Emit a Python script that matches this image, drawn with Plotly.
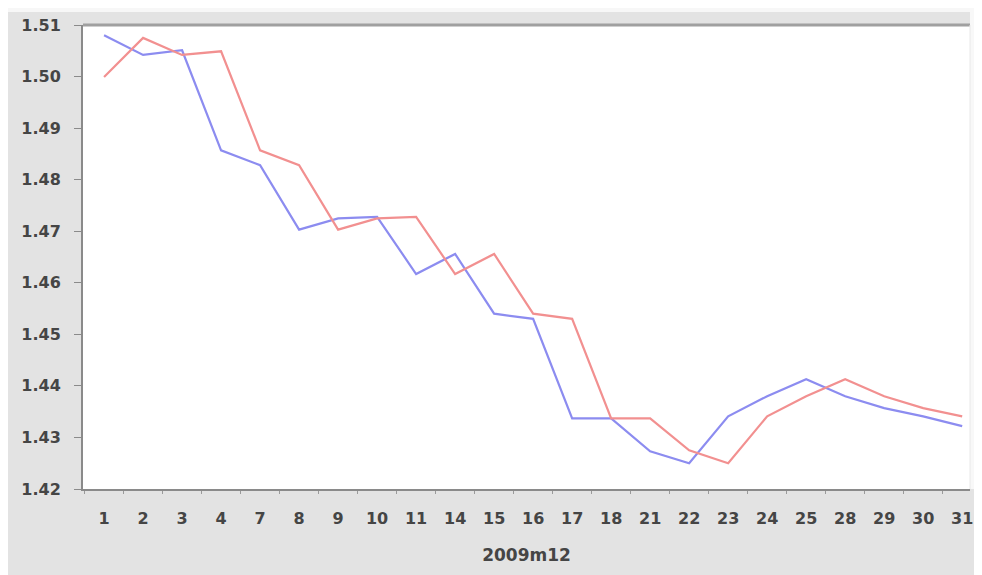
import plotly.graph_objects as go

days = ["1", "2", "3", "4", "7", "8", "9", "10", "11", "14", "15", "16", "17", "18",
        "21", "22", "23", "24", "25", "28", "29", "30", "31"]
blue_series = [1.5080, 1.5042, 1.5051, 1.4857, 1.4828, 1.4703, 1.4725, 1.4728, 1.4617,
               1.4656, 1.4540, 1.4530, 1.4337, 1.4337, 1.4273, 1.4250, 1.4341, 1.4380,
               1.4413, 1.4380, 1.4357, 1.4341, 1.4322]
red_series = [1.4999, 1.5075, 1.5042, 1.5049, 1.4857, 1.4828, 1.4703, 1.4725, 1.4728,
              1.4617, 1.4656, 1.4540, 1.4530, 1.4337, 1.4337, 1.4275, 1.4250, 1.4341,
              1.4380, 1.4413, 1.4380, 1.4357, 1.4341]
y_ticks = [1.42, 1.43, 1.44, 1.45, 1.46, 1.47, 1.48, 1.49, 1.50, 1.51]
x_title = "2009m12"

# page has an 8px body margin, so the figure is sized to fill the rest
W, H = 974, 567
L, R, T, B = 75, 12, 17, 86
pw, ph = W - L - R, H - T - B

fig = go.Figure()
fig.add_trace(go.Scatter(x=days, y=blue_series, mode="lines",
                         line=dict(color="#8c8cf0", width=2.2), showlegend=False))
fig.add_trace(go.Scatter(x=days, y=red_series, mode="lines",
                         line=dict(color="#f29090", width=2.2), showlegend=False))

tfont = dict(family="DejaVu Sans, Verdana, sans-serif", size=16, color="#454545", weight="bold")

fig.update_layout(
    width=W, height=H,
    margin=dict(l=L, r=R, t=T, b=B),
    paper_bgcolor="#e3e3e3",
    plot_bgcolor="#ffffff",
    font=tfont,
    xaxis=dict(
        type="category", range=[-0.54, 22.2], automargin=False,
        showgrid=False, zeroline=False,
        showline=True, linecolor="#8a8a8a", linewidth=2,
        ticks="outside", tickson="boundaries", ticklen=3, tickcolor="#9a9a9a",
        tickfont=tfont,
        ticklabelstandoff=14,
        title=dict(text=x_title, standoff=22, font=dict(tfont, size=17)),
    ),
    yaxis=dict(
        range=[1.42, 1.51], tickvals=y_ticks, automargin=False,
        ticktext=[f"{v:.2f}" for v in y_ticks],
        showgrid=False, zeroline=False,
        showline=True, linecolor="#8a8a8a", linewidth=2,
        ticks="outside", ticklen=7, tickcolor="#8a8a8a",
        tickfont=tfont,
        ticklabelstandoff=10,
    ),
    shapes=[
        dict(type="line", xref="paper", yref="paper", x0=0, x1=1, y0=1, y1=1,
             line=dict(color="#a0a0a0", width=3)),
        dict(type="line", xref="paper", yref="paper", x0=1, x1=1, y0=0, y1=1,
             line=dict(color="#e8e8e8", width=1)),
        dict(type="rect", xref="paper", yref="paper", layer="below",
             x0=-L / pw, x1=(W - L) / pw, y0=1 + 13 / ph, y1=1 + T / ph,
             line=dict(width=0), fillcolor="#f7f7f7"),
        dict(type="rect", xref="paper", yref="paper", layer="below",
             x0=1, x1=(W - L) / pw, y0=0, y1=1 + T / ph,
             line=dict(width=0), fillcolor="#f8f8f8"),
    ],
)

fig.write_html("out.html")
